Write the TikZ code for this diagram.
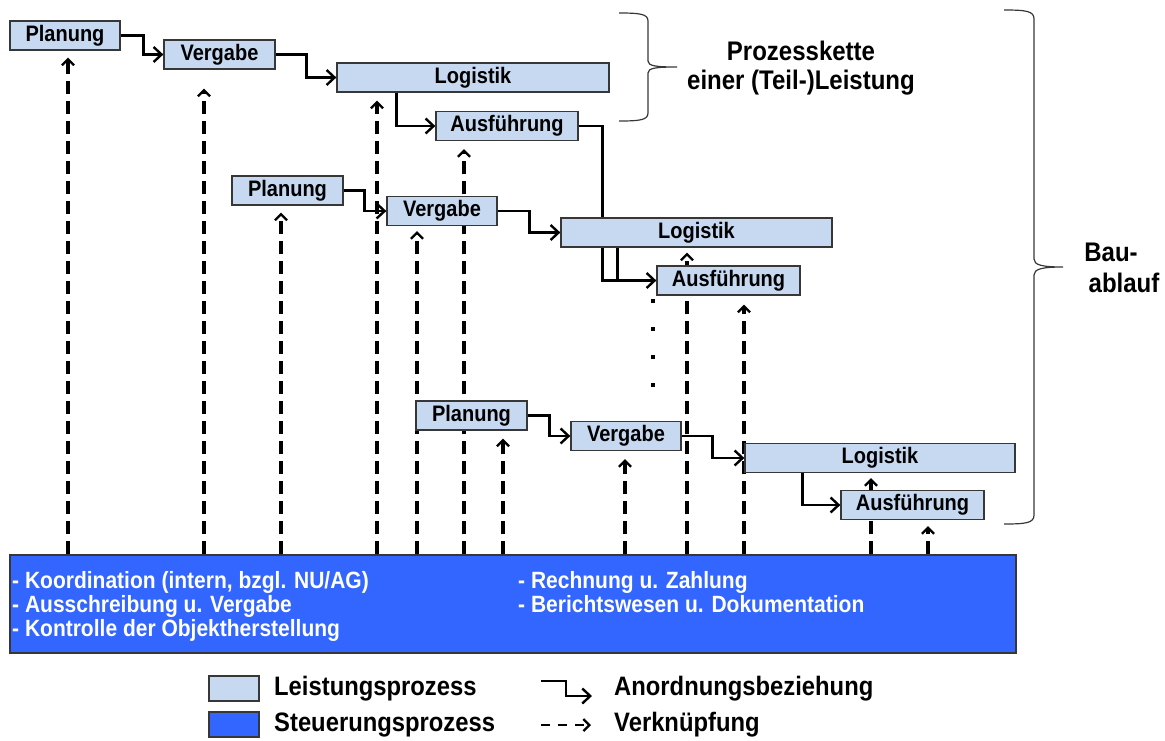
\documentclass[tikz,border=0pt]{standalone}
\usepackage{fontspec}
\usepackage{graphicx}
\setmainfont{Liberation Sans}
\usetikzlibrary{arrows.meta,backgrounds}

\definecolor{lpfill}{RGB}{198,217,241}
\definecolor{spfill}{RGB}{51,102,255}
\definecolor{edgegray}{RGB}{55,55,55}

% slightly tall lettering
\newcommand{\tl}[1]{\scalebox{1}[1.12]{#1}}

\tikzset{
  lp/.style={draw=edgegray, line width=1.3pt, fill=lpfill, minimum height=29pt,
    inner sep=0pt, font=\bfseries\fontsize{20}{24}\selectfont},
  sp/.style={draw=edgegray, line width=1.3pt, fill=spfill, inner sep=0pt},
  sptext/.style={anchor=base west, inner sep=0pt, text=white,
    font=\bfseries\fontsize{21}{24}\selectfont},
  lgtext/.style={anchor=west, inner sep=0pt, font=\bfseries\fontsize{23.8}{28}\selectfont},
  bigtext/.style={inner sep=0pt, font=\bfseries\fontsize{24}{31}\selectfont},
  anord/.style={line width=2.4pt, -{Straight Barb[length=8pt,width=15pt]}},
  plainline/.style={line width=2.4pt},
  verk/.style={line width=3.1pt, dash pattern=on 13pt off 7pt,
    -{Straight Barb[length=6pt,width=12pt,line width=2.3pt]}},
  bracket/.style={line width=1.2pt, draw=edgegray},
}

\begin{document}
\begin{tikzpicture}[x=1pt,y=-1pt]
\useasboundingbox (0,0) rectangle (1165,740);

% ---- process boxes: three chains
\node[lp, minimum width=110pt] (p1) at (65,35.5) {\tl{Planung}};
\node[lp, minimum width=111pt] (v1) at (219.5,54.5) {\tl{Vergabe}};
\node[lp, minimum width=272pt] (l1) at (473,77.5) {\tl{Logistik}};
\node[lp, minimum width=142pt] (a1) at (507,126) {\tl{Ausführung}};

\node[lp, minimum width=111pt] (p2) at (287.5,190.5) {\tl{Planung}};
\node[lp, minimum width=110pt] (v2) at (442,211) {\tl{Vergabe}};
\node[lp, minimum width=271pt] (l2) at (696.5,232.5) {\tl{Logistik}};
\node[lp, minimum width=143pt] (a2) at (728.5,280.5) {\tl{Ausführung}};

\node[lp, minimum width=111pt] (p3) at (471.5,415.5) {\tl{Planung}};
\node[lp, minimum width=110pt] (v3) at (626,436) {\tl{Vergabe}};
\node[lp, minimum width=270pt] (l3) at (880,458) {\tl{Logistik}};
\node[lp, minimum width=143pt] (a3) at (912.5,505) {\tl{Ausführung}};

% ---- control process
\node[sp, minimum width=1006pt, minimum height=98pt] (sp) at (513,604) {};
\node[sptext] (s1) at (12,588) {\tl{- Koordination (intern, bzgl. NU/AG)}};
\node[sptext] (s2) at (12,612) {\tl{- Ausschreibung u. Vergabe}};
\node[sptext] (s3) at (12,636) {\tl{- Kontrolle der Objektherstellung}};
\node[sptext] (s4) at (518,588) {\tl{- Rechnung u. Zahlung}};
\node[sptext] (s5) at (518,612) {\tl{- Berichtswesen u. Dokumentation}};

% ---- connectors behind the boxes
\begin{pgfonlayer}{background}
  % Anordnungsbeziehungen
  \draw[anord] (p1.east) -- ++(23,0) |- (v1.west);
  \draw[anord] (v1.east) -- ++(31,0) |- (l1.west);
  \draw[anord] ([xshift=60pt]l1.south west) |- (a1.west);
  \draw[anord] (a1.east) -- ++(24,0) |- (a2.west);
  \draw[plainline] ([xshift=57pt]l2.south west) -- ([xshift=57pt]l2.south west |- a2.west);

  \draw[anord] (p2.east) -- ++(21,0) |- (v2.west);
  \draw[anord] (v2.east) -- ++(32,0) |- (l2.west);

  \draw[anord] (p3.east) -- ++(22,0) |- (v3.west);
  \draw[anord] (v3.east) -- ++(31,0) |- (l3.west);
  \draw[anord] ([xshift=58pt]l3.south west) |- (a3.west);

  % Verknuepfungen from the control process
  \foreach \x/\t/\g in {68/p1/7, 204/v1/19, 281/p2/7, 377/l1/8, 417/v2/5,
      464/a1/8, 503/p3/8, 625/v3/8, 687/l2/5, 744/a2/9, 871/l3/5, 928/a3/6}{
    \coordinate (vx) at (\x,0);
    \draw[verk, shorten >=\g pt] (sp.north -| vx) -- (\t.south -| vx);
  }
\end{pgfonlayer}

% ---- continuation dots
\foreach \y [count=\i] in {301,329,357,385}{
  \node[fill=black, inner sep=0pt, minimum size=3.4pt] (dot\i) at (653,\y) {};
}

% ---- braces
\draw[bracket] (619,13) .. controls (640,13) and (648,14) .. (648,21)
  -- (648,61) .. controls (648,66) and (656,67) .. (677,67)
  .. controls (656,67) and (648,68) .. (648,73)
  -- (648,113) .. controls (648,120) and (640,121) .. (619,121);
\node[bigtext] (pk1) at (801,51) {\tl{Prozesskette}};
\node[bigtext] (pk2) at (801,83) {\tl{einer (Teil-)Leistung}};

\draw[bracket] (1004,10) .. controls (1026,10) and (1034,11) .. (1034,19)
  -- (1034,259) .. controls (1034,265) and (1042,267) .. (1063,267)
  .. controls (1042,267) and (1034,269) .. (1034,275)
  -- (1034,515) .. controls (1034,523) and (1026,524) .. (1004,524);
\node[bigtext] (ba1) at (1111,252) {\tl{Bau-}};
\node[bigtext] (ba2) at (1124,283) {\tl{ablauf}};

% ---- legend
\node[lp, minimum width=50pt, minimum height=25pt] (lg1) at (234,688.5) {};
\node[sp, minimum width=50pt, minimum height=25pt] (lg2) at (234,724.5) {};
\node[lgtext] (lt1) at (274,689) {\tl{Leistungsprozess}};
\node[lgtext] (lt2) at (274,725) {\tl{Steuerungsprozess}};

\coordinate (ls) at (541,681);
\coordinate (le) at (592,696);
\draw[anord] (ls) -- ++(25,0) |- (le);
\coordinate (vs) at (541,725);
\coordinate (ve) at (591,725);
\draw[line width=2.7pt, dash pattern=on 9pt off 8pt,
  -{Straight Barb[length=6pt,width=12pt,line width=2.3pt]}] (vs) -- (ve);
\node[lgtext] (lt3) at (614,689) {\tl{Anordnungsbeziehung}};
\node[lgtext] (lt4) at (614,725) {\tl{Verknüpfung}};
\end{tikzpicture}
\end{document}
